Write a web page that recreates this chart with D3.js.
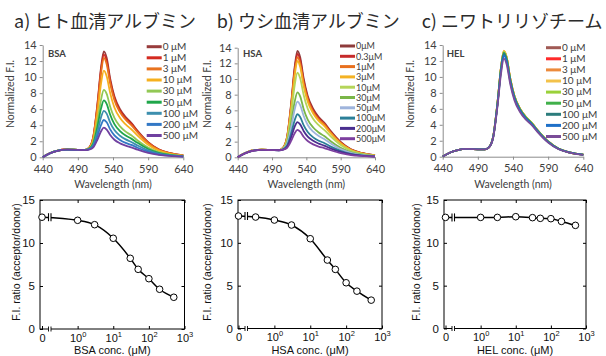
<!DOCTYPE html>
<html lang="ja">
<head>
<meta charset="UTF-8">
<title>FRET probe: spectra and F.I. ratio</title>
<script src="https://d3js.org/d3.v7.min.js"></script>
<style>
  body { margin: 0; background: #fff; }
  svg { display: block; }
  .title { font-family: "Noto Sans CJK JP", sans-serif; font-size: 18px; fill: #2b2b2b; }
  .xl { font-family: Lato, "Open Sans", sans-serif; fill: #404040; }
  .ar { font-family: "Liberation Sans", Arial, sans-serif; fill: #111; }
</style>
</head>
<body>
<svg id="chart" width="606" height="356"></svg>
<script>
// ---- data ----
const wavelength = [440,450,460,475,490,500,506,512,518,523,527,531,536,542,550,558,566,575,590,605,620,640];
const wlTicks = [440, 490, 540, 590, 640];
const fiTicks = [0, 2, 4, 6, 8, 10, 12, 14];

const bsaLabels = ["0 μM","1 μM","3 μM","10 μM","30 μM","50 μM","100 μM","200 μM","500 μM"];
const bsaColors = ["#983c3c","#d42a20","#e8731f","#f6b01e","#92c855","#1fa64a","#3d8fae","#3378c5","#7040a0"];
const bsaSpectra = [
  [0.02,0.5,0.8,0.97,0.93,0.92,1.2,2.6,6.8,11.2,13.2,12.4,9.8,7.6,6.0,5.0,4.3,3.3,1.9,1.0,0.55,0.25],
  [0.02,0.5,0.8,0.97,0.93,0.92,1.19,2.54,6.6,10.9,12.8,12.0,9.5,7.4,5.8,4.85,4.2,3.2,1.84,0.97,0.53,0.24],
  [0.02,0.5,0.8,0.97,0.93,0.92,1.18,2.5,6.4,10.5,12.4,11.6,9.2,7.1,5.6,4.7,4.0,3.1,1.8,0.94,0.52,0.24],
  [0.02,0.5,0.8,0.96,0.93,0.92,1.14,2.26,5.6,9.2,10.8,10.1,8.0,6.2,4.9,4.1,3.5,2.7,1.56,0.83,0.46,0.21],
  [0.02,0.49,0.8,0.96,0.93,0.92,1.09,1.92,4.5,7.2,8.4,7.9,6.3,4.9,3.85,3.2,2.75,2.1,1.23,0.65,0.36,0.17],
  [0.02,0.49,0.79,0.96,0.93,0.91,1.06,1.73,3.86,6.1,7.1,6.66,5.3,4.13,3.27,2.72,2.33,1.8,1.04,0.56,0.31,0.14],
  [0.02,0.49,0.79,0.96,0.92,0.91,1.02,1.55,3.23,5.0,5.8,5.44,4.33,3.39,2.68,2.23,1.91,1.47,0.86,0.46,0.26,0.12],
  [0.02,0.48,0.79,0.95,0.92,0.9,1.0,1.38,2.68,4.03,4.65,4.36,3.48,2.73,2.17,1.8,1.54,1.19,0.7,0.38,0.21,0.1],
  [0.02,0.48,0.78,0.95,0.92,0.9,0.97,1.25,2.22,3.24,3.7,3.46,2.78,2.19,1.74,1.45,1.24,0.96,0.56,0.31,0.17,0.08]
];

const hsaLabels = ["0μM","0.3μM","1μM","3μM","10μM","30μM","50μM","100μM","200μM","500μM"];
const hsaColors = ["#8e3b3b","#c62a2a","#e8701e","#f4b223","#b5d55a","#7ab648","#9eb4dc","#2b7f98","#4a2e8f","#7d3f9f"];
const hsaSpectra = [
  [0.02,0.52,0.85,0.98,0.93,0.92,1.21,2.66,7.0,11.54,13.6,12.78,10.1,7.83,6.18,5.15,4.43,3.4,1.96,1.03,0.57,0.26],
  [0.02,0.52,0.85,0.98,0.93,0.92,1.2,2.6,6.8,11.2,13.2,12.4,9.8,7.6,6.0,5.0,4.3,3.3,1.9,1.0,0.55,0.25],
  [0.02,0.52,0.84,0.98,0.93,0.92,1.19,2.54,6.6,10.9,12.8,12.0,9.5,7.4,5.8,4.85,4.2,3.2,1.84,0.97,0.53,0.24],
  [0.02,0.51,0.84,0.97,0.93,0.92,1.18,2.47,6.37,10.45,12.3,11.56,9.14,7.09,5.6,4.66,4.01,3.08,1.77,0.93,0.51,0.23],
  [0.02,0.51,0.83,0.97,0.93,0.92,1.14,2.26,5.6,9.2,10.8,10.1,8.0,6.2,4.9,4.1,3.5,2.7,1.56,0.83,0.46,0.21],
  [0.02,0.5,0.82,0.97,0.93,0.91,1.08,1.9,4.44,7.1,8.3,7.79,6.18,4.81,3.81,3.17,2.72,2.09,1.21,0.64,0.36,0.16],
  [0.02,0.5,0.81,0.96,0.92,0.91,1.06,1.73,3.86,6.1,7.1,6.66,5.3,4.13,3.27,2.72,2.33,1.8,1.04,0.56,0.31,0.14],
  [0.02,0.49,0.8,0.96,0.92,0.9,1.02,1.5,3.09,4.74,5.5,5.15,4.11,3.22,2.55,2.12,1.82,1.4,0.82,0.44,0.25,0.12],
  [0.02,0.48,0.79,0.95,0.92,0.9,0.99,1.36,2.6,3.91,4.5,4.21,3.37,2.65,2.1,1.75,1.49,1.15,0.68,0.37,0.21,0.1],
  [0.02,0.47,0.78,0.95,0.92,0.9,0.97,1.22,2.12,3.07,3.5,3.27,2.63,2.08,1.65,1.37,1.17,0.91,0.53,0.29,0.17,0.08]
];

const helLabels = ["0 μM","1 μM","3 μM","10 μM","30 μM","50 μM","100 μM","200 μM","500 μM"];
const helColors = ["#a05a55","#ff2a2a","#ec8a3c","#f3c24a","#9ad13a","#40b04a","#2c7c7c","#1f70c8","#7a4c98"];
const helSpectra = [
  [0.02,0.5,0.8,0.97,0.93,0.92,1.2,2.6,6.8,11.2,13.2,12.4,9.8,7.6,6.0,5.0,4.3,3.3,1.9,1.0,0.55,0.25],
  [0.02,0.5,0.8,0.97,0.93,0.92,1.2,2.6,6.79,11.19,13.2,12.39,9.8,7.6,6.0,5.0,4.3,3.3,1.9,1.0,0.55,0.25],
  [0.02,0.5,0.8,0.97,0.93,0.92,1.2,2.61,6.82,11.24,13.25,12.45,9.83,7.62,6.01,5.01,4.31,3.31,1.9,1.0,0.55,0.25],
  [0.02,0.5,0.8,0.97,0.93,0.92,1.21,2.62,6.85,11.28,13.3,12.5,9.88,7.65,6.03,5.03,4.33,3.32,1.91,1.0,0.55,0.25],
  [0.02,0.5,0.8,0.97,0.93,0.92,1.2,2.6,6.78,11.16,13.15,12.35,9.76,7.57,5.98,4.99,4.29,3.29,1.9,1.0,0.55,0.25],
  [0.02,0.5,0.8,0.97,0.93,0.92,1.2,2.58,6.73,11.07,13.05,12.26,9.69,7.51,5.93,4.95,4.25,3.26,1.88,0.99,0.54,0.25],
  [0.02,0.5,0.8,0.97,0.93,0.92,1.19,2.56,6.68,10.99,12.95,12.16,9.61,7.46,5.89,4.91,4.22,3.24,1.87,0.98,0.54,0.25],
  [0.02,0.5,0.8,0.97,0.93,0.92,1.19,2.53,6.56,10.78,12.7,11.92,9.43,7.31,5.77,4.81,4.14,3.18,1.83,0.96,0.53,0.24],
  [0.02,0.5,0.8,0.97,0.93,0.92,1.18,2.47,6.37,10.45,12.3,11.56,9.14,7.09,5.6,4.66,4.01,3.08,1.77,0.93,0.51,0.23]
];

// F.I. ratio (acceptor/donor) vs. protein concentration (μM)
const bsaConc  = [0, 1, 3, 10, 30, 50, 100, 200, 500];
const bsaRatio = [13.0, 12.64, 12.13, 10.55, 8.22, 6.94, 5.85, 4.62, 3.69];
const hsaConc  = [0, 0.3, 1, 3, 10, 30, 50, 100, 200, 500];
const hsaRatio = [13.13, 13.01, 12.66, 12.08, 10.48, 7.99, 6.9, 5.34, 4.36, 3.31];
const helConc  = [0, 1, 3, 10, 30, 50, 100, 200, 500];
const helRatio = [12.97, 12.97, 12.97, 13.05, 12.94, 12.86, 12.82, 12.5, 12.04];
const ratioTicks = [0, 5, 10, 15];
const decadeTicks = [1, 10, 100, 1000];

const svg = d3.select("#chart");

function spectrumPanel(p) {
  const g = svg.append("g");
  const x = d3.scaleLinear().domain([440, 640]).range([p.left, p.right]);
  const y = d3.scaleLinear().domain([0, 14]).range([p.bottom, p.top]);

  g.append("text").attr("class", "title").attr("x", p.titleX).attr("y", 28).text(p.title);

  const ax = g.append("g").attr("transform", `translate(0,${p.bottom})`)
    .call(d3.axisBottom(x).tickValues(wlTicks).tickSize(3).tickSizeOuter(0).tickPadding(5));
  const ay = g.append("g").attr("transform", `translate(${p.left},0)`)
    .call(d3.axisLeft(y).tickValues(fiTicks).tickSize(3).tickSizeOuter(0).tickPadding(3));
  [ax, ay].forEach(a => {
    a.selectAll("path, line").attr("stroke", "#8c8c8c");
    a.selectAll("text").attr("class", "xl").style("font-size", "11px");
  });

  g.append("text").attr("class", "xl").style("font-size", "10.5px")
    .attr("text-anchor", "middle").attr("x", (p.left + p.right) / 2).attr("y", 188)
    .text("Wavelength (nm)");
  g.append("text").attr("class", "xl").style("font-size", "10.5px")
    .attr("text-anchor", "middle")
    .attr("transform", `translate(${p.ylabX},94) rotate(-90)`)
    .text("Normalized F.I.");
  g.append("text").attr("class", "xl").style("font-size", "9.5px").style("font-weight", "bold")
    .attr("fill", "#222").attr("x", p.tagX).attr("y", 57).text(p.tag);

  const line = d3.line()
    .x((d, i) => x(wavelength[i]))
    .y(d => y(d))
    .curve(d3.curveMonotoneX);
  g.selectAll(".spec").data(p.data).join("path")
    .attr("d", line).attr("fill", "none")
    .attr("stroke", (d, i) => p.colors[i]).attr("stroke-width", 1.8);

  const leg = g.selectAll(".leg").data(p.labels).join("g")
    .attr("transform", (d, i) => `translate(${p.legX},${p.legY + i * p.legStep})`);
  leg.append("line").attr("x1", 0).attr("x2", 15)
    .attr("stroke", (d, i) => p.colors[i]).attr("stroke-width", 3);
  leg.append("text").attr("class", "xl").style("font-size", p.legFont)
    .attr("x", 16).attr("y", 3.3).text(d => d);
}

function ratioPanel(p) {
  const g = svg.append("g");
  const x = d3.scaleLog().domain([0.1, 1000]).range([p.zero, p.right]);
  const y = d3.scaleLinear().domain([0, 15]).range([p.bottom, p.top]);

  g.append("rect").attr("x", p.left).attr("y", p.top)
    .attr("width", p.right - p.left).attr("height", p.bottom - p.top)
    .attr("fill", "none").attr("stroke", "#000").attr("stroke-width", 1);

  // inward ticks on all four sides
  const xb = g.append("g").attr("transform", `translate(0,${p.bottom})`)
    .call(d3.axisBottom(x).tickValues([0.1, ...decadeTicks]).tickSize(-3).tickSizeOuter(0).tickFormat(""));
  const xt = g.append("g").attr("transform", `translate(0,${p.top})`)
    .call(d3.axisTop(x).tickValues(decadeTicks).tickSize(-3).tickSizeOuter(0).tickFormat(""));
  const yl = g.append("g").attr("transform", `translate(${p.left},0)`)
    .call(d3.axisLeft(y).tickValues(ratioTicks).tickSize(-3).tickSizeOuter(0).tickPadding(5));
  const yr = g.append("g").attr("transform", `translate(${p.right},0)`)
    .call(d3.axisRight(y).tickValues(ratioTicks).tickSize(-3).tickSizeOuter(0).tickFormat(""));
  [xb, xt, yl, yr].forEach(a => {
    a.select(".domain").remove();
    a.selectAll("line").attr("stroke", "#000");
  });
  yl.selectAll("text").attr("class", "ar").style("font-size", "11.5px");

  xb.selectAll(".tick").append("text").attr("class", "ar")
    .style("font-size", "11px").attr("text-anchor", "middle").attr("y", 12.5)
    .each(function(d) {
      const t = d3.select(this);
      if (d === 0.1) { t.text("0"); return; }
      t.append("tspan").text("10");
      t.append("tspan").attr("dy", -5).style("font-size", "7.5px").text(Math.round(Math.log10(d)));
    });

  // axis break near zero
  const bx = x(0.1) + 6.5;
  g.append("rect").attr("x", bx).attr("y", p.bottom - 1).attr("width", 2.5).attr("height", 2).attr("fill", "#fff");
  [bx, bx + 2.5].forEach(v => g.append("line").attr("x1", v).attr("x2", v)
    .attr("y1", p.bottom - 2.5).attr("y2", p.bottom + 2.5).attr("stroke", "#000").attr("stroke-width", 0.9));

  const pts = p.conc.map((c, i) => [c === 0 ? 0.1 : c, p.ratio[i]]);
  const line = d3.line().x(d => x(d[0])).y(d => y(d[1])).curve(d3.curveMonotoneX);
  g.append("path").datum(pts).attr("d", line).attr("fill", "none")
    .attr("stroke", "#000").attr("stroke-width", 1.5);

  const by = y(p.ratio[0]);
  g.append("rect").attr("x", bx).attr("y", by - 2).attr("width", 2.5).attr("height", 4).attr("fill", "#fff");
  [bx, bx + 2.5].forEach(v => g.append("line").attr("x1", v).attr("x2", v)
    .attr("y1", by - 4).attr("y2", by + 4).attr("stroke", "#000").attr("stroke-width", 1.1));

  g.selectAll(".pt").data(pts).join("circle")
    .attr("cx", d => x(d[0])).attr("cy", d => y(d[1])).attr("r", 3.3)
    .attr("fill", "#fff").attr("stroke", "#000").attr("stroke-width", 1);

  g.append("text").attr("class", "ar").style("font-size", "11px").attr("text-anchor", "middle")
    .attr("x", (p.left + p.right) / 2).attr("y", 353.7).text(p.xlab);
  g.append("text").attr("class", "ar").style("font-size", "10.5px").attr("text-anchor", "middle")
    .attr("transform", `translate(${p.ylabX},262) rotate(-90)`)
    .text("F.I. ratio (acceptor/donor)");
}

spectrumPanel({ title: "a) ヒト血清アルブミン", titleX: 14, tag: "BSA", tagX: 48,
  left: 42.7, right: 183.3, top: 45, bottom: 157.3, ylabX: 14,
  data: bsaSpectra, colors: bsaColors, labels: bsaLabels,
  legX: 146.7, legY: 46.7, legStep: 11.1, legFont: "10px" });
spectrumPanel({ title: "b) ウシ血清アルブミン", titleX: 216.7, tag: "HSA", tagX: 243,
  left: 237.7, right: 375, top: 47.7, bottom: 157.3, ylabX: 211,
  data: hsaSpectra, colors: hsaColors, labels: hsaLabels,
  legX: 340, legY: 46, legStep: 10.3, legFont: "9px" });
spectrumPanel({ title: "c) ニワトリリゾチーム", titleX: 421.7, tag: "HEL", tagX: 446.7,
  left: 442.7, right: 583.3, top: 45, bottom: 156.7, ylabX: 414,
  data: helSpectra, colors: helColors, labels: helLabels,
  legX: 546, legY: 47.7, legStep: 11.1, legFont: "10px" });

ratioPanel({ conc: bsaConc, ratio: bsaRatio, xlab: "BSA conc. (μM)",
  left: 40, zero: 42, right: 184.5, top: 200, bottom: 329, ylabX: 20 });
ratioPanel({ conc: hsaConc, ratio: hsaRatio, xlab: "HSA conc. (μM)",
  left: 238, zero: 238.5, right: 382, top: 200, bottom: 328.5, ylabX: 211 });
ratioPanel({ conc: helConc, ratio: helRatio, xlab: "HEL conc. (μM)",
  left: 444, zero: 445.5, right: 586, top: 200, bottom: 328.5, ylabX: 420 });
</script>
</body>
</html>
